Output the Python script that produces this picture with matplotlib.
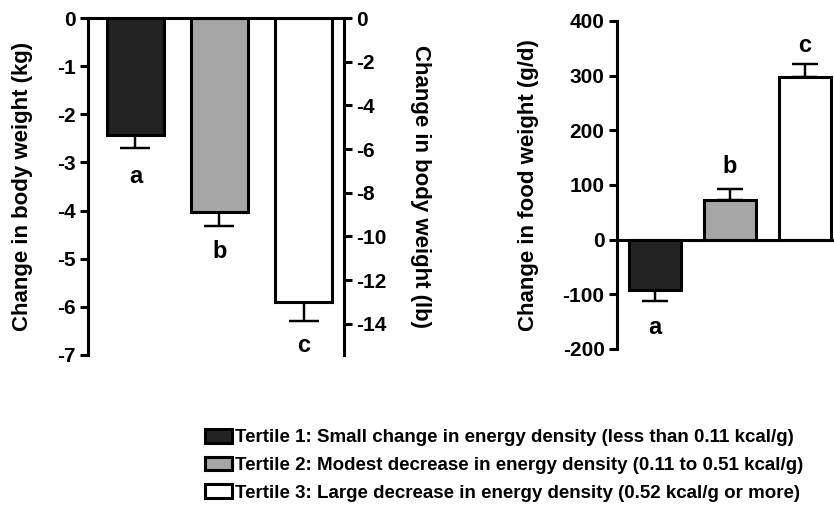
import matplotlib
matplotlib.use("Agg")
import matplotlib.pyplot as plt
from matplotlib.patches import Patch

plt.rcParams['font.family'] = ['Liberation Sans', 'DejaVu Sans']
plt.rcParams['font.weight'] = 'bold'
plt.rcParams['axes.unicode_minus'] = False

# data
tertiles = [0, 1, 2]
body_kg = [-2.42, -4.02, -5.9]
body_err = [0.28, 0.30, 0.40]
body_letters = ['a', 'b', 'c']
body_letter_y = [-3.3, -4.86, -6.8]

food_gd = [-92, 73, 297]
food_err = [21, 20, 25]
food_letters = ['a', 'b', 'c']
food_letter_y = [-161, 133, 356]

colors = ['#232323', '#a6a6a6', '#ffffff']
legend_labels = [
    'Tertile 1: Small change in energy density (less than 0.11 kcal/g)',
    'Tertile 2: Modest decrease in energy density (0.11 to 0.51 kcal/g)',
    'Tertile 3: Large decrease in energy density (0.52 kcal/g or more)',
]

KG_TO_LB = 2.20462
W, H = 834, 515
tick_fs = 15
label_fs = 16
lw = 2.2

fig = plt.figure(figsize=(W / 100, H / 100), dpi=100)


def style_axis(ax):
    ax.tick_params(axis='y', direction='out', length=6, width=lw, labelsize=tick_fs, pad=3)
    ax.tick_params(axis='x', bottom=False, labelbottom=False)
    for lab in ax.get_yticklabels():
        lab.set_fontweight('bold')


# ---- left panel: body weight ----
ax1 = fig.add_axes([88 / W, 1 - 355 / H, 256 / W, 337 / H])
ax1.bar(tertiles, body_kg, width=0.68, color=colors, edgecolor='black', linewidth=lw, zorder=2)
ax1.errorbar(tertiles, body_kg, yerr=[body_err, [0, 0, 0]], fmt='none', ecolor='black',
             elinewidth=lw * 0.8, capsize=10.5, capthick=lw * 0.8, zorder=1)
ax1.set_xlim(-0.565, 2.482)
ax1.set_ylim(-7, 0)
ax1.set_yticks([0, -1, -2, -3, -4, -5, -6, -7])
ax1.axhline(0, color='black', lw=lw, clip_on=False)
for s in ['top', 'bottom', 'right']:
    ax1.spines[s].set_visible(False)
ax1.spines['left'].set_linewidth(lw)
style_axis(ax1)
ax1.set_ylabel('Change in body weight (kg)', fontsize=label_fs, fontweight='bold', va='center')
ax1.yaxis.set_label_coords(-0.254, 0.5)
for x, y, t in zip(tertiles, body_letter_y, body_letters):
    ax1.text(x, y, t, ha='center', va='center', fontsize=label_fs + 1, fontweight='bold')

ax1r = ax1.twinx()
ax1r.set_ylim(-7 * KG_TO_LB, 0)
ax1r.set_yticks([0, -2, -4, -6, -8, -10, -12, -14])
for s in ['top', 'bottom', 'left']:
    ax1r.spines[s].set_visible(False)
ax1r.spines['right'].set_linewidth(lw)
style_axis(ax1r)
ax1r.set_ylabel('Change in body weight (lb)', fontsize=label_fs, fontweight='bold',
                rotation=270, va='center')
ax1r.yaxis.set_label_coords(1.297, 0.5)

# ---- right panel: food weight ----
ax2 = fig.add_axes([617 / W, 1 - 349 / H, 217 / W, 328 / H])
ax2.bar(tertiles, food_gd, width=0.69, color=colors, edgecolor='black', linewidth=lw, zorder=2)
lower = [e if v < 0 else 0 for v, e in zip(food_gd, food_err)]
upper = [e if v > 0 else 0 for v, e in zip(food_gd, food_err)]
ax2.errorbar(tertiles, food_gd, yerr=[lower, upper], fmt='none', ecolor='black',
             elinewidth=lw * 0.8, capsize=9.5, capthick=lw * 0.8, zorder=1)
ax2.set_xlim(-0.507, 2.387)
ax2.set_ylim(-200, 400)
ax2.set_yticks([-200, -100, 0, 100, 200, 300, 400])
ax2.axhline(0, color='black', lw=lw, clip_on=False)
for s in ['top', 'bottom', 'right']:
    ax2.spines[s].set_visible(False)
ax2.spines['left'].set_linewidth(lw)
style_axis(ax2)
ax2.set_ylabel('Change in food weight (g/d)', fontsize=label_fs, fontweight='bold', va='center')
ax2.yaxis.set_label_coords(-0.406, 0.5)
for x, y, t in zip(tertiles, food_letter_y, food_letters):
    ax2.text(x, y, t, ha='center', va='center', fontsize=label_fs + 1, fontweight='bold')

# ---- legend ----
handles = [Patch(facecolor=c, edgecolor='black', linewidth=lw) for c in colors]
fig.legend(handles, legend_labels, loc='upper left', bbox_to_anchor=(205 / W, 1 - 429 / H),
           frameon=False, prop={'size': 13.5, 'weight': 'bold'}, handlelength=1.45,
           handleheight=0.75, handletextpad=0.15, labelspacing=0.55, borderpad=0,
           borderaxespad=0)

fig.savefig('out.png', dpi=100)
